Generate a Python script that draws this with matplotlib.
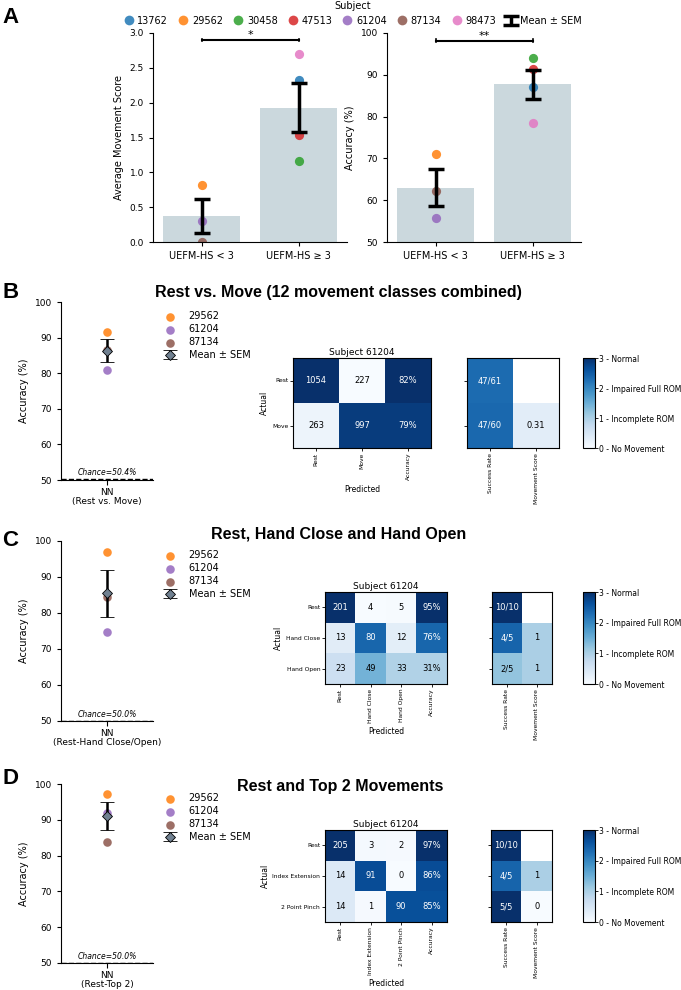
import numpy as np
import matplotlib
matplotlib.use('Agg')
import matplotlib.pyplot as plt
from matplotlib.colors import Normalize
from matplotlib.cm import ScalarMappable

W, H = 681, 990

# subjects and colours
subjects = ['13762', '29562', '30458', '47513', '61204', '87134', '98473']
subject_colors = ['#1f77b4', '#ff7f0e', '#2ca02c', '#d62728', '#9467bd', '#8c564b', '#e377c2']
color_of = dict(zip(subjects, subject_colors))

# panel A
groups = ['UEFM-HS < 3', 'UEFM-HS ≥ 3']
low_subjects = ['29562', '61204', '87134']
high_subjects = ['13762', '30458', '47513', '98473']
low_move_score = [0.82, 0.30, 0.00]
high_move_score = [2.32, 1.16, 1.54, 2.70]
low_accuracy = [71.0, 55.7, 62.2]
high_accuracy = [87.0, 94.0, 91.3, 78.5]

# panels B-D, strip plots
nn_subjects = ['29562', '61204', '87134']
acc_rest_move = [91.7, 80.8, 86.5]
acc_hand = [97.0, 74.8, 84.5]
acc_top2 = [97.1, 92.0, 83.9]
chance_levels = [50.4, 50.0, 50.0]

# panels B-D, confusion matrices for subject 61204
labels_b = ['Rest', 'Move']
counts_b = [[1054, 227], [263, 997]]
succ_num_b, succ_den_b = [47, 47], [61, 60]
score_b = [np.nan, 0.31]

labels_c = ['Rest', 'Hand Close', 'Hand Open']
counts_c = [[201, 4, 5], [13, 80, 12], [23, 49, 33]]
succ_num_c, succ_den_c = [10, 4, 2], [10, 5, 5]
score_c = [np.nan, 1, 1]

labels_d = ['Rest', 'Index Extension', '2 Point Pinch']
counts_d = [[205, 3, 2], [14, 91, 0], [14, 1, 90]]
succ_num_d, succ_den_d = [10, 4, 5], [10, 5, 5]
score_d = [np.nan, 1, 0]

cbar_labels = ['0 - No Movement', '1 - Incomplete ROM', '2 - Impaired Full ROM', '3 - Normal']

fig = plt.figure(figsize=(W / 100, H / 100), dpi=100)


def box(x0, y0, x1, y1):
    # pixel box -> figure fraction
    return [x0 / W, 1 - y1 / H, (x1 - x0) / W, (y1 - y0) / H]


def sem(v):
    return np.std(v, ddof=1) / np.sqrt(len(v))


def bracket(ax, y, h, txt):
    ax.plot([0, 0], [y - h, y + h], color='black', lw=1.2, clip_on=False)
    ax.plot([1, 1], [y - h, y + h], color='black', lw=1.2, clip_on=False)
    ax.plot([0, 1], [y, y], color='black', lw=1.5, clip_on=False)
    ax.text(0.5, y, txt, ha='center', va='bottom', fontsize=8)


# ---------- A ----------
def bar_panel(rect, low, high, ylim, yticks, ylabel, sig_y, sig_h, sig_txt):
    ax = fig.add_axes(box(*rect))
    means = [np.mean(low), np.mean(high)]
    ax.bar([0, 1], means, width=0.8, color='#cbd8dd', zorder=1)
    for subs, vals, x in [(low_subjects, low, 0), (high_subjects, high, 1)]:
        for s, v in zip(subs, vals):
            ax.scatter(x, v, s=44, color=color_of[s], alpha=0.85, lw=0, zorder=2)
    eb = ax.errorbar([0, 1], means, yerr=[sem(low), sem(high)], fmt='none', ecolor='black',
                     elinewidth=2.5, capsize=6, capthick=2.5, zorder=3)
    ax.set_xlim(-0.5, 1.5)
    ax.set_ylim(*ylim)
    ax.set_yticks(yticks)
    ax.set_xticks([0, 1])
    ax.set_xticklabels(groups, fontsize=7)
    ax.tick_params(axis='y', labelsize=6.5, length=3)
    ax.tick_params(axis='x', length=3)
    ax.set_ylabel(ylabel, fontsize=7)
    ax.spines['top'].set_visible(False)
    ax.spines['right'].set_visible(False)
    bracket(ax, sig_y, sig_h, sig_txt)
    return eb


eb_a = bar_panel((153, 33, 347, 242), low_move_score, high_move_score, (0, 3.0),
                 np.arange(0, 3.01, 0.5), 'Average Movement Score', 2.9, 0.02, '*')
bar_panel((387, 33, 581, 242), low_accuracy, high_accuracy, (50, 100),
          range(50, 101, 10), 'Accuracy (%)', 98.1, 0.35, '**')

handles = [plt.Line2D([], [], ls='none', marker='o', ms=7, mew=0, color=c, alpha=0.85)
           for c in subject_colors] + [eb_a]
fig.legend(handles, subjects + ['Mean ± SEM'], loc='upper center', bbox_to_anchor=(353 / W, 1.0),
           ncol=8, frameon=False, fontsize=7, title='Subject', title_fontsize=7,
           columnspacing=1.1, handletextpad=0.45, handlelength=0.9, borderpad=0.1, borderaxespad=0)


# ---------- B-D strip plots ----------
def strip_panel(rect, values, chance, xlabel):
    ax = fig.add_axes(box(*rect))
    for s, v in zip(nn_subjects, values):
        ax.scatter(0, v, s=38, color=color_of[s], alpha=0.85, lw=0, label=s, zorder=2)
    ax.errorbar(0, np.mean(values), yerr=sem(values), fmt='D', color='black', mfc='#708090',
                mec='black', mew=0.6, ms=5, elinewidth=1.8, capsize=5, capthick=1.8,
                label='Mean ± SEM', zorder=3)
    ax.axhline(chance, ls='--', color='black', lw=1)
    ax.text(0, chance + 0.5, f'Chance={chance}%', style='italic', fontsize=5.5,
            ha='center', va='bottom')
    ax.set_xlim(-0.5, 0.5)
    ax.set_ylim(50, 100)
    ax.set_xticks([0])
    ax.set_xticklabels([xlabel], fontsize=6.5, linespacing=1.1)
    ax.tick_params(axis='x', pad=2)
    ax.tick_params(axis='y', labelsize=6.5, length=3)
    ax.set_ylabel('Accuracy (%)', fontsize=7)
    ax.spines['top'].set_visible(False)
    ax.spines['right'].set_visible(False)
    ax.legend(loc='upper left', bbox_to_anchor=(1.07, 0.97), frameon=False, fontsize=7,
              handlelength=1.3, handletextpad=1.3, labelspacing=0.3, borderaxespad=0)


strip_panel((61, 302, 153, 480), acc_rest_move, chance_levels[0], 'NN\n(Rest vs. Move)')
strip_panel((61, 541, 153, 721), acc_hand, chance_levels[1], 'NN\n(Rest-Hand Close/Open)')
strip_panel((61, 784, 153, 963), acc_top2, chance_levels[2], 'NN\n(Rest-Top 2)')


# ---------- B-D confusion matrices ----------
def conf_panel(rect_mat, rect_tab, rect_cb, labels, counts, succ_num, succ_den, score):
    counts = np.array(counts, float)
    n = len(labels)
    frac = counts / counts.sum(axis=1, keepdims=True)
    acc = np.diag(counts) / counts.sum(axis=1)
    grid = np.column_stack([frac, acc])
    lo, hi = grid.min(), grid.max()

    ax = fig.add_axes(box(*rect_mat))
    ax.imshow(grid, cmap='Blues', aspect='auto')
    for i in range(n):
        for j in range(n + 1):
            txt = f'{int(counts[i, j])}' if j < n else f'{int(acc[i] * 100)}%'
            shade = (grid[i, j] - lo) / (hi - lo)
            ax.text(j, i, txt, ha='center', va='center', fontsize=6,
                    color='white' if shade > 0.5 else 'black')
    ax.set_xticks(range(n + 1))
    ax.set_xticklabels(labels + ['Accuracy'], rotation=90, fontsize=4.3)
    ax.set_yticks(range(n))
    ax.set_yticklabels(labels, fontsize=4.3)
    ax.tick_params(length=2, width=0.6, pad=1.5)
    ax.set_xlabel('Predicted', fontsize=5.5, labelpad=3)
    ax.set_ylabel('Actual', fontsize=5.5, labelpad=2)
    ax.set_title('Subject 61204', fontsize=6.5, pad=2.5)

    rate = np.array(succ_num) / np.array(succ_den)
    tab = np.column_stack([rate * 3, score])
    ax2 = fig.add_axes(box(*rect_tab))
    ax2.imshow(tab, cmap='Blues', vmin=0, vmax=3, aspect='auto')
    for i in range(n):
        ax2.text(0, i, f'{succ_num[i]}/{succ_den[i]}', ha='center', va='center', fontsize=6,
                 color='white' if tab[i, 0] > 1.5 else 'black')
        if not np.isnan(score[i]):
            ax2.text(1, i, f'{score[i]:g}', ha='center', va='center', fontsize=6,
                     color='white' if score[i] > 1.5 else 'black')
    ax2.set_xticks([0, 1])
    ax2.set_xticklabels(['Success Rate', 'Movement Score'], rotation=90, fontsize=4.3)
    ax2.set_yticks(range(n))
    ax2.set_yticklabels([])
    ax2.tick_params(length=2, width=0.6, pad=1.5)

    cax = fig.add_axes(box(*rect_cb))
    cb = fig.colorbar(ScalarMappable(norm=Normalize(0, 3), cmap='Blues'), cax=cax, ticks=[0, 1, 2, 3])
    cb.ax.set_yticklabels(cbar_labels, fontsize=5.5)
    cb.ax.tick_params(length=2, width=0.6, pad=1)
    cb.outline.set_linewidth(0.8)


conf_panel((293, 358, 431, 448), (467, 358, 559, 448), (583, 358, 595, 448),
           labels_b, counts_b, succ_num_b, succ_den_b, score_b)
conf_panel((325, 592, 447, 684), (492, 592, 552, 684), (583, 592, 595, 684),
           labels_c, counts_c, succ_num_c, succ_den_c, score_c)
conf_panel((325, 830, 447, 922), (491, 830, 552, 922), (583, 830, 595, 922),
           labels_d, counts_d, succ_num_d, succ_den_d, score_d)

# titles and panel letters
title_font = dict(family='Liberation Sans', weight='bold', ha='center', va='center')
fig.text(338 / W, 1 - 293 / H, 'Rest vs. Move (12 movement classes combined)', fontsize=11.5, **title_font)
fig.text(339 / W, 1 - 535 / H, 'Rest, Hand Close and Hand Open', fontsize=11.5, **title_font)
fig.text(340 / W, 1 - 787 / H, 'Rest and Top 2 Movements', fontsize=11.5, **title_font)

letter_font = dict(family='Liberation Sans', weight='bold', fontsize=16, ha='left', va='center')
for letter, y in [('A', 17.5), ('B', 292.7), ('C', 540), ('D', 779)]:
    fig.text(2 / W, 1 - y / H, letter, **letter_font)

fig.savefig('out.png', dpi=100)
